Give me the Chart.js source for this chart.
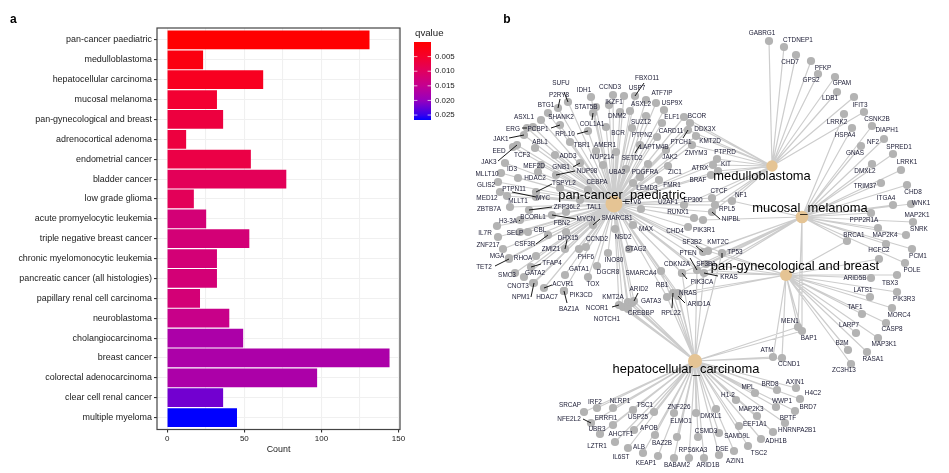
<!DOCTYPE html>
<html>
<head>
<meta charset="utf-8">
<title>Cancer enrichment</title>
<script src="https://cdn.jsdelivr.net/npm/chart.js@4"></script>
<style>
  html, body { margin: 0; padding: 0; background: #fff; overflow: hidden; }
  #wrap { position: relative; width: 949px; height: 473px; }
  canvas { position: absolute; top: 0; }
  #barChart { left: 0; }
  #netChart { left: 470px; }
</style>
</head>
<body>
<div id="wrap">
  <canvas id="barChart" width="470" height="473"></canvas>
  <canvas id="netChart" width="479" height="473"></canvas>
</div>
<script>
// ── Panel a data ──
const categories = ["pan-cancer paediatric", "medulloblastoma", "hepatocellular carcinoma", "mucosal melanoma",
  "pan-gynecological and breast", "adrenocortical adenoma", "endometrial cancer", "bladder cancer", "low grade glioma",
  "acute promyelocytic leukemia", "triple negative breast cancer", "chronic myelomonocytic leukemia",
  "pancreatic cancer (all histologies)", "papillary renal cell carcinoma", "neuroblastoma", "cholangiocarcinoma",
  "breast cancer", "colorectal adenocarcinoma", "clear cell renal cancer", "multiple myeloma"];
const counts = [131, 23, 62, 32, 36, 12, 54, 77, 17, 25, 53, 32, 32, 21, 40, 49, 144, 97, 36, 45];
const qvalues = [0.0001, 0.0019, 0.0037, 0.0056, 0.0069, 0.0069, 0.0075, 0.0093, 0.0093, 0.0123, 0.0123, 0.0123, 0.0123,
  0.0123, 0.0142, 0.0176, 0.0176, 0.0176, 0.0219, 0.0267];
const xTicks = [0, 25, 50, 75, 100, 125, 150];
const qTicks = [0.005, 0.010, 0.015, 0.020, 0.025];
const qMax = 0.0267;
const qStops = [[0, "#ff0000"], [0.19, "#f5002c"], [0.375, "#e00060"], [0.56, "#c40090"], [0.75, "#9600be"], [0.94, "#3400ee"], [1, "#0000ff"]];

// ── Panel b data: [name, x, y, labelX, labelY, hubs, connectorX, connectorY] ──
// hubs: p pan-cancer, m medulloblastoma, u mucosal, g gynecological, h hepatocellular
const hubs = {
  p: ["pan-cancer_paediatric", 614, 204, 622, 195, 8.5],
  m: ["medulloblastoma", 772, 166, 762, 176, 5.7],
  u: ["mucosal_melanoma", 802, 217, 810, 208, 6.3],
  g: ["pan-gynecological and breast", 786, 275, 795, 266, 6],
  h: ["hepatocellular_carcinoma", 695, 361, 686, 369, 7]
};
const genesNorth = [
  ["SUFU", 568, 102, 561, 83, "p", 564, 92], ["P2RY8", 558, 108, 559, 95, "p", 560, 99], ["BTG1", 548, 113, 546, 105, "p"],
  ["SHANK2", 541, 120, 561, 117, "p"], ["ASXL1", 533, 127, 524, 117, "p"], ["IDH1", 591, 97, 584, 90, "p"],
  ["CCND3", 613, 95, 610, 87, "p"], ["USP7", 624, 96, 637, 88, "p"], ["FBXO11", 635, 96, 647, 78, "p", 644, 83],
  ["ATF7IP", 646, 100, 662, 93, "p"], ["STAT5B", 596, 107, 586, 107, "p"], ["IKZF1", 609, 105, 614, 102, "p"],
  ["COL1A1", 593, 113, 592, 124, "p", 592, 120], ["DNM2", 620, 112, 617, 116, "p"], ["BCR", 606, 127, 618, 133, "p"],
  ["ASXL2", 630, 111, 641, 104, "p"], ["USP9X", 656, 103, 672, 103, "p"], ["ELF1", 664, 110, 672, 117, "p"],
  ["SUZ12", 646, 116, 641, 122, "p"], ["PTPN2", 632, 128, 642, 135, "p"], ["CARD11", 662, 123, 671, 131, "p"],
  ["LAPTM4B", 657, 137, 654, 147, "p"], ["SETD2", 640, 145, 632, 158, "p", 635, 153], ["JAK2", 666, 150, 670, 157, "p"],
  ["PCBP1", 560, 125, 538, 129, "p", 551, 128], ["ERG", 527, 128, 513, 129, "p", 522, 128], ["RPL10", 588, 131, 565, 134, "p", 577, 134],
  ["ABL1", 535, 148, 540, 142, "p"], ["JAK1", 524, 135, 501, 139, "p", 509, 138], ["EED", 513, 147, 499, 151, "p"],
  ["JAK3", 517, 145, 489, 162, "p", 498, 161], ["TCF3", 505, 163, 522, 155, "p"], ["TBR1", 570, 142, 582, 145, "p"],
  ["AMER1", 616, 152, 605, 145, "p"], ["ADD3", 555, 155, 568, 156, "p"], ["NUP214", 596, 151, 602, 157, "p"],
  ["GNB1", 580, 163, 561, 167, "p", 573, 167], ["NUP98", 556, 175, 587, 171, "p", 575, 171], ["UBA2", 626, 169, 617, 172, "p"],
  ["PDGFRA", 648, 164, 645, 172, "p"], ["MEF2D", 541, 165, 534, 166, "p"], ["ID3", 518, 178, 512, 169, "p"],
  ["MLLT10", 501, 173, 487, 174, "p"], ["HDAC2", 538, 172, 535, 178, "p"], ["", 603, 165, 0, 0, "p"]
];
const genesWest = [
  ["TSPYL2", 536, 192, 564, 183, "p", 552, 184], ["PTPN11", 536, 197, 514, 189, "p", 512, 192], ["MYC", 560, 188, 543, 198, "p"],
  ["CEBPA", 588, 190, 597, 182, "p"], ["GLIS2", 498, 182, 486, 185, "p"], ["MED12", 500, 192, 487, 198, "p"],
  ["MLLT1", 507, 196, 518, 201, "p"], ["ZBTB7A", 510, 207, 489, 209, "p"], ["H3-3A", 497, 226, 508, 221, "p"],
  ["BCORL1", 520, 220, 533, 217, "p", 519, 221], ["ZFP36L2", 529, 210, 567, 207, "p", 552, 207], ["TAL1", 580, 200, 594, 207, "p"],
  ["MYCN", 552, 215, 586, 219, "p", 576, 219], ["SMARCB1", 593, 225, 617, 218, "p", 600, 219], ["FBN2", 566, 212, 562, 223, "p"],
  ["IL7R", 498, 237, 485, 233, "p"], ["SELP", 520, 232, 515, 233, "p"], ["CBL", 528, 232, 540, 230, "p"],
  ["CSF3R", 548, 235, 525, 244, "p", 536, 244], ["ZNF217", 503, 249, 488, 245, "p"], ["DHX15", 566, 232, 568, 238, "p"],
  ["ZMIZ1", 565, 249, 551, 249, "p", 567, 240], ["CCND2", 586, 247, 597, 239, "p"], ["NSD2", 615, 229, 623, 237, "p"],
  ["MGA", 509, 258, 497, 256, "p"], ["TET2", 509, 259, 484, 267, "p", 495, 266], ["RHOA", 536, 256, 523, 258, "p"],
  ["TFAP4", 531, 267, 552, 263, "p", 541, 264], ["PHF6", 579, 249, 586, 257, "p"], ["INO80", 608, 253, 614, 260, "p"],
  ["SMC3", 515, 273, 507, 275, "p"], ["GATA2", 524, 277, 535, 273, "p"], ["GATA1", 565, 275, 579, 269, "p"],
  ["DGCR8", 597, 266, 608, 272, "p"], ["CNOT3", 533, 283, 518, 286, "p"], ["ACVR1", 544, 288, 563, 284, "p", 552, 285],
  ["TOX", 588, 277, 593, 284, "p"], ["NPM1", 534, 283, 521, 297, "p", 531, 297], ["HDAC7", 564, 291, 547, 297, "p"],
  ["PIK3CD", 564, 291, 581, 295, "p"], ["BAZ1A", 564, 291, 569, 309, "p", 567, 303],
  ["KMT2A", 628, 302, 613, 297, "ph"], ["NCOR1", 619, 305, 597, 308, "ph", 612, 307], ["NOTCH1", 623, 307, 607, 319, "ph"]
];
const genesEast = [
  ["BCOR", 684, 117, 697, 116, "pm"], ["DDX3X", 690, 123, 705, 129, "pm"], ["PTCH1", 688, 130, 681, 142, "pm", 683, 138],
  ["KMT2D", 696, 136, 710, 141, "pm"], ["ZMYM3", 692, 145, 696, 153, "pm"], ["PTPRD", 717, 159, 725, 152, "pm"],
  ["KIT", 713, 165, 726, 164, "pm"], ["ATRX", 718, 171, 700, 168, "pm"], ["ZIC1", 668, 166, 675, 172, "p"],
  ["BRAF", 711, 175, 698, 180, "pm"], ["LEMD3", 640, 177, 647, 188, "p"], ["FMR1", 659, 180, 672, 185, "p"],
  ["ETV6", 633, 183, 633, 202, "p"], ["U2AF1", 641, 209, 668, 202, "p"], ["EP300", 684, 205, 693, 200, "pm"],
  ["CTCF", 712, 198, 719, 191, "pm"], ["NF1", 732, 201, 741, 195, "pmu"], ["RPL5", 715, 205, 727, 209, "pm"],
  ["NIPBL", 712, 212, 731, 219, "pm", 720, 219], ["RUNX1", 694, 218, 678, 212, "p"], ["PIK3R1", 703, 220, 704, 230, "pu"],
  ["CHD4", 688, 227, 675, 231, "p"], ["MAX", 633, 225, 646, 229, "p"], ["STAG2", 629, 249, 636, 249, "p"],
  ["SF3B2", 703, 252, 692, 242, "pu", 696, 246], ["KMT2C", 708, 251, 718, 242, "pug"], ["TP53", 722, 253, 735, 252, "pugh", 722, 258],
  ["PTEN", 697, 270, 688, 253, "pugh", 690, 258], ["CDKN2A", 682, 273, 677, 264, "pgh"], ["SF3B1", 706, 264, 706, 264, "pug"],
  ["KRAS", 704, 273, 729, 277, "pugh", 718, 276], ["PIK3CA", 682, 273, 702, 282, "pugh", 687, 279], ["SMARCA4", 661, 271, 641, 273, "ph"],
  ["RB1", 667, 297, 662, 285, "ph"], ["NRAS", 678, 293, 688, 293, "pugh"], ["RPL22", 673, 293, 671, 313, "ph", 672, 308],
  ["ARID1A", 678, 296, 699, 304, "pgh", 685, 303], ["ARID2", 634, 301, 639, 289, "ph", 638, 293], ["GATA3", 632, 303, 651, 301, "ph"],
  ["CREBBP", 628, 309, 641, 313, "ph"]
];
const genesMedullo = [
  ["GABRG1", 769, 41, 762, 33, "m"], ["CTDNEP1", 784, 47, 798, 40, "m"], ["CHD7", 796, 55, 790, 62, "m"], ["PFKP", 811, 61, 823, 68, "m"],
  ["GPS2", 818, 74, 811, 80, "m"], ["GPAM", 835, 77, 842, 83, "m"], ["LDB1", 837, 92, 830, 98, "m"], ["IFIT3", 854, 97, 860, 105, "m"],
  ["CSNK2B", 864, 112, 877, 119, "m"]
];
const genesMucosal = [
  ["LRRK2", 844, 114, 837, 122, "u"], ["HSPA4", 852, 128, 845, 135, "u"], ["DIAPH1", 872, 126, 887, 130, "u"], ["GNAS", 861, 146, 855, 153, "u"],
  ["NF2", 884, 139, 873, 142, "u"], ["SPRED1", 893, 154, 899, 147, "u"], ["DMXL2", 872, 164, 865, 171, "u"], ["LRRK1", 901, 170, 907, 162, "u"],
  ["TRIM37", 881, 183, 865, 186, "u"], ["CHD8", 907, 185, 913, 192, "u"], ["ITGA4", 893, 205, 886, 198, "u"], ["WNK1", 911, 204, 921, 203, "u"],
  ["PPP2R1A", 871, 213, 864, 220, "u"], ["MAP2K1", 913, 222, 917, 215, "u"], ["MAP2K4", 878, 228, 885, 235, "u"], ["SNRK", 906, 235, 919, 229, "u"],
  ["BRCA1", 847, 241, 854, 235, "ug"], ["HCFC2", 886, 244, 879, 250, "u"], ["PCM1", 912, 249, 918, 256, "u"], ["POLE", 905, 263, 912, 270, "u"],
  ["MEN1", 798, 327, 790, 321, "ugh"], ["BAP1", 802, 331, 809, 338, "ugh"]
];
const genesGyn = [
  ["", 879, 259, 0, 0, "g"], ["ARID5B", 871, 278, 855, 278, "g"], ["TBX3", 897, 275, 890, 283, "g"], ["LATS1", 870, 297, 863, 290, "g"],
  ["PIK3R3", 897, 292, 904, 299, "g"], ["MORC4", 892, 308, 899, 315, "g"], ["TAF1", 862, 314, 855, 307, "g"], ["CASP8", 886, 323, 892, 329, "g"],
  ["LARP7", 856, 333, 849, 325, "g"], ["MAP3K1", 878, 338, 884, 344, "g"], ["B2M", 848, 350, 842, 343, "g"], ["RASA1", 867, 352, 873, 359, "g"],
  ["ZC3H13", 851, 364, 844, 370, "g"], ["ATM", 773, 357, 767, 350, "gh"], ["CCND1", 782, 358, 789, 364, "gh"]
];
const genesHepato = [
  ["SRCAP", 584, 412, 570, 405, "h"], ["IRF2", 597, 408, 595, 402, "h"], ["NLRP1", 613, 408, 620, 401, "h"], ["TSC1", 633, 410, 645, 405, "h"],
  ["NFE2L2", 591, 423, 569, 419, "h", 583, 419], ["ERRFI1", 613, 425, 606, 418, "h"], ["USP25", 654, 412, 638, 417, "h"], ["UBR3", 600, 434, 597, 429, "h"],
  ["ZNF226", 674, 413, 679, 407, "h"], ["ELMO1", 696, 413, 681, 421, "h"], ["APOB", 655, 435, 649, 428, "h"], ["AHCTF1", 634, 430, 621, 434, "h"],
  ["LZTR1", 615, 442, 597, 446, "h"], ["ALB", 628, 448, 639, 447, "h"], ["BAZ2B", 677, 437, 662, 443, "h"], ["IL6ST", 643, 453, 621, 457, "h"],
  ["KEAP1", 658, 456, 646, 463, "h"], ["BABAM2", 674, 458, 677, 465, "h"], ["RPS6KA3", 689, 458, 693, 450, "h"], ["CSMD3", 698, 437, 706, 431, "h"],
  ["ARID1B", 704, 458, 708, 465, "h"], ["DMXL1", 716, 409, 711, 416, "h"], ["H1-2", 736, 400, 728, 395, "h"], ["MPL", 755, 393, 748, 387, "h"],
  ["BRD8", 777, 390, 770, 384, "h"], ["AXIN1", 796, 388, 795, 382, "h"], ["H4C2", 800, 399, 813, 393, "h"], ["WWP1", 776, 407, 782, 401, "h"],
  ["BRD7", 795, 411, 808, 407, "h"], ["MAP2K3", 757, 416, 751, 409, "h"], ["BPTF", 785, 423, 788, 418, "h"], ["EEF1A1", 739, 426, 755, 424, "h"],
  ["HNRNPA2B1", 773, 432, 797, 430, "h"], ["SAMD9L", 719, 433, 737, 436, "h"], ["ADH1B", 761, 439, 776, 441, "h"], ["DSE", 719, 455, 722, 449, "h"],
  ["TSC2", 748, 446, 759, 453, "h"], ["AZIN1", 734, 451, 735, 461, "h"]
];
const allGenes = [...genesNorth, ...genesWest, ...genesEast, ...genesMedullo, ...genesMucosal, ...genesGyn, ...genesHepato];

const fontFamily = "'Liberation Sans', Arial, sans-serif";
Chart.defaults.animation = false;
Chart.defaults.font.family = fontFamily;
Chart.defaults.plugins.legend.display = false;
Chart.defaults.plugins.tooltip.enabled = false;

// ── Colour scale ──
function hexRgb(h) { return [1, 3, 5].map(i => parseInt(h.slice(i, i + 2), 16)); }
function qColor(q) {
  const t = Math.min(1, q / qMax);
  for (let i = 1; i < qStops.length; i++) {
    if (t <= qStops[i][0]) {
      const f = (t - qStops[i - 1][0]) / (qStops[i][0] - qStops[i - 1][0]);
      const a = hexRgb(qStops[i - 1][1]), b = hexRgb(qStops[i][1]);
      return `rgb(${a.map((v, k) => Math.round(v + (b[k] - v) * f)).join(",")})`;
    }
  }
  return qStops[qStops.length - 1][1];
}

// ── Panel a ──
const panelPlugin = {
  id: "panel",
  afterDraw(chart) {
    const { ctx, chartArea: a } = chart;
    ctx.save();
    ctx.strokeStyle = "#444";
    ctx.lineWidth = 1.2;
    ctx.strokeRect(a.left, a.top, a.right - a.left, a.bottom - a.top);

    // panel letter
    ctx.fillStyle = "#000";
    ctx.font = `bold 12px ${fontFamily}`;
    ctx.textBaseline = "middle";
    ctx.fillText("a", 10, 20);

    // colour bar legend
    const barL = 414, barW = 17, barT = 42, barH = 78;
    ctx.font = `9.7px ${fontFamily}`;
    ctx.fillStyle = "#1a1a1a";
    ctx.fillText("qvalue", 415, 33);
    const grad = ctx.createLinearGradient(0, barT, 0, barT + barH);
    qStops.forEach(s => grad.addColorStop(s[0], s[1]));
    ctx.fillStyle = grad;
    ctx.fillRect(barL, barT, barW, barH);
    ctx.font = `7.9px ${fontFamily}`;
    qTicks.forEach(q => {
      const y = barT + q / qMax * barH;
      ctx.strokeStyle = "#fff";
      ctx.lineWidth = 0.7;
      ctx.beginPath();
      ctx.moveTo(barL, y); ctx.lineTo(barL + 3.4, y);
      ctx.moveTo(barL + barW - 3.4, y); ctx.lineTo(barL + barW, y);
      ctx.stroke();
      ctx.fillStyle = "#1a1a1a";
      ctx.fillText(q.toFixed(3), 435, y);
    });
    ctx.restore();
  }
};

new Chart(document.getElementById("barChart"), {
  type: "bar",
  data: {
    datasets: [{
      data: counts.map((c, i) => ({ x: c, y: i })),
      backgroundColor: qvalues.map(qColor),
      barThickness: 18
    }]
  },
  options: {
    indexAxis: "y",
    responsive: false,
    layout: { padding: { top: 28, right: 70, left: 0, bottom: 18.5 } },
    scales: {
      x: {
        type: "linear", min: -6.7, max: 151,
        afterBuildTicks(axis) { axis.ticks = xTicks.map(value => ({ value })); },
        afterFit(axis) { axis.height = 25; },
        ticks: {
          color: "#1a1a1a", font: { size: 8 }, padding: 1, maxRotation: 0, autoSkip: false,
          callback: v => (v % 50 === 0 ? v : "")
        },
        grid: {
          color: "#f0f0f0", lineWidth: 1.1, tickLength: 3,
          tickColor: c => (c.tick && c.tick.value % 50 === 0 ? "#333" : "rgba(0,0,0,0)")
        },
        border: { display: false },
        title: { display: true, text: "Count", color: "#1a1a1a", font: { size: 8.9 }, padding: { top: 3, bottom: 0 } }
      },
      y: {
        type: "linear", reverse: true, min: -0.6, max: 19.6, offset: false,
        afterBuildTicks(axis) { axis.ticks = categories.map((_, i) => ({ value: i })); },
        afterFit(axis) { axis.width = 157; },
        ticks: {
          color: "#1a1a1a", font: { size: 8.95 }, padding: 2, autoSkip: false,
          callback: v => categories[v]
        },
        grid: { offset: false, color: "#f0f0f0", lineWidth: 1.1, tickLength: 3, tickColor: "#333" },
        border: { display: false }
      }
    }
  },
  plugins: [panelPlugin]
});

// ── Panel b ──
const edgePoints = [];
allGenes.forEach(g => {
  for (const h of g[5]) {
    edgePoints.push({ x: hubs[h][1], y: hubs[h][2] }, { x: g[1], y: g[2] }, { x: NaN, y: NaN });
  }
});
const connectorPoints = [];
allGenes.forEach(g => {
  if (g[6] !== undefined) {
    connectorPoints.push({ x: g[6], y: g[7] !== undefined ? g[7] : g[4] }, { x: g[1], y: g[2] }, { x: NaN, y: NaN });
  }
});

const labelPlugin = {
  id: "netLabels",
  afterDatasetsDraw(chart) {
    const { ctx, scales: { x, y } } = chart;
    ctx.save();
    ctx.textAlign = "center";
    ctx.textBaseline = "middle";
    ctx.fillStyle = "#1a1a33";
    ctx.font = `6.4px ${fontFamily}`;
    allGenes.forEach(g => {
      if (g[0]) ctx.fillText(g[0], x.getPixelForValue(g[3]), y.getPixelForValue(g[4]));
    });
    ctx.fillStyle = "#000";
    ctx.font = `12.9px ${fontFamily}`;
    Object.values(hubs).forEach(h => ctx.fillText(h[0], x.getPixelForValue(h[3]), y.getPixelForValue(h[4])));
    ctx.font = `bold 12px ${fontFamily}`;
    ctx.fillText("b", x.getPixelForValue(507), y.getPixelForValue(20));
    ctx.restore();
  }
};

new Chart(document.getElementById("netChart"), {
  type: "scatter",
  data: {
    datasets: [
      {
        data: edgePoints, showLine: true, spanGaps: false, pointRadius: 0,
        borderColor: "#cdcdcd", borderWidth: 1.2, order: 4
      },
      {
        data: allGenes.map(g => ({ x: g[1], y: g[2] })), pointRadius: 4.1,
        backgroundColor: "#b3b3b3", borderWidth: 0, order: 3
      },
      {
        data: connectorPoints, showLine: true, spanGaps: false, pointRadius: 0,
        borderColor: "#000", borderWidth: 0.9, order: 2
      },
      {
        data: Object.values(hubs).map(h => ({ x: h[1], y: h[2] })),
        pointRadius: Object.values(hubs).map(h => h[5]),
        backgroundColor: "#e5c494", borderWidth: 0, order: 1
      }
    ]
  },
  options: {
    responsive: false,
    layout: { padding: 0, autoPadding: false },
    scales: {
      x: { type: "linear", display: false, min: 470, max: 949 },
      y: { type: "linear", display: false, min: 0, max: 473, reverse: true }
    }
  },
  plugins: [labelPlugin]
});
</script>
</body>
</html>
